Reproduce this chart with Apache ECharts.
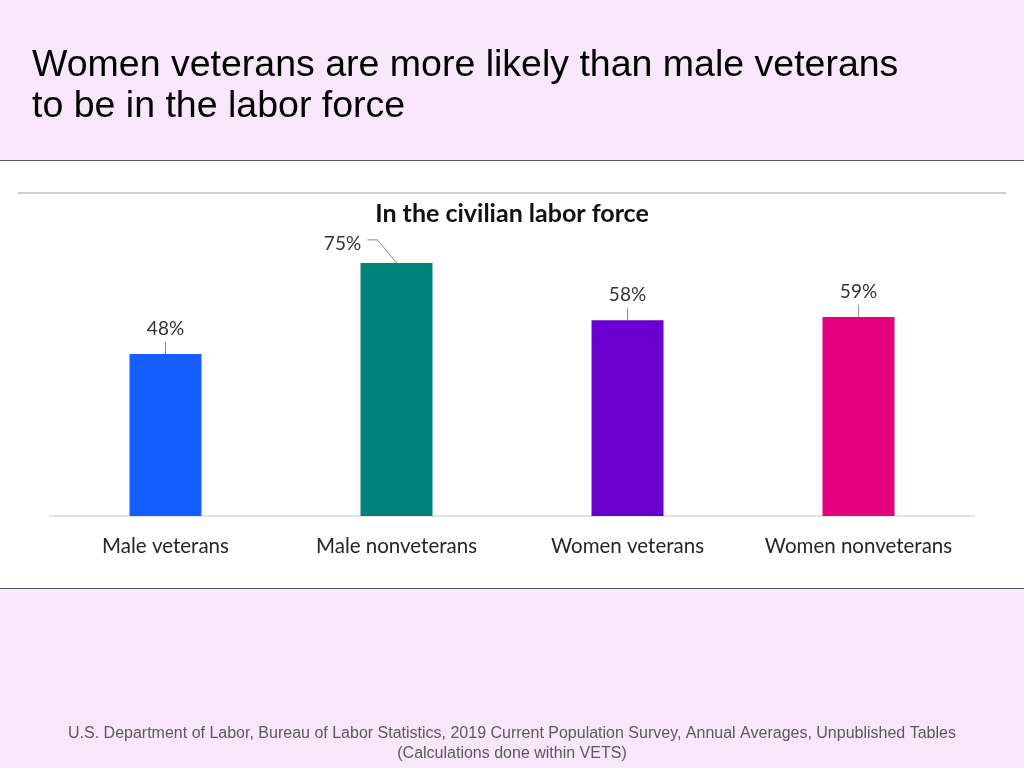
<!DOCTYPE html>
<html>
<head>
<meta charset="utf-8">
<script src="https://cdn.jsdelivr.net/npm/echarts@6/dist/echarts.min.js"></script>
<style>
html,body{margin:0;padding:0;background:#f8e6fb;}
#chart{width:1024px;height:768px;}
</style>
</head>
<body>
<div id="chart"></div>
<script>
const categories = ['Male veterans', 'Male nonveterans', 'Women veterans', 'Women nonveterans'];
const values = [48, 75, 58, 59];
const barColors = ['#175eff', '#00837c', '#6a00cf', '#e6007e'];
const mainTitle = 'Women veterans are more likely than male veterans\nto be in the labor force';
const chartTitle = 'In the civilian labor force';
const sourceNote = 'U.S. Department of Labor, Bureau of Labor Statistics, 2019 Current Population Survey, Annual Averages, Unpublished Tables\n(Calculations done within VETS)';

// styling of leader lines (pixel offsets from bar top)
const labelOffsets = {1: [-54, 6]};
const leaderBends = {1: [[-19, -23], [-29, -23]]};
const defaultLeader = [[0, -12]];

const chart = echarts.init(document.getElementById('chart'));
const chartFont = 'Lato';

chart.setOption({
  backgroundColor: '#f8e6fb',
  animation: false,
  graphic: [
    {type: 'rect', shape: {x: 0, y: 160, width: 1024, height: 428}, style: {fill: '#ffffff', stroke: null}, z: -10},
    {type: 'line', shape: {x1: 0, y1: 160.5, x2: 1024, y2: 160.5}, style: {stroke: '#5a5a5a', lineWidth: 1.2}, z: -9},
    {type: 'line', shape: {x1: 0, y1: 588.5, x2: 1024, y2: 588.5}, style: {stroke: '#5a5a5a', lineWidth: 1.2}, z: -9},
    {type: 'line', shape: {x1: 18, y1: 193, x2: 1006, y2: 193}, style: {stroke: '#d0d0d0', lineWidth: 2}, z: -9},
    {
      type: 'text', x: 512, y: 723.5,
      style: {
        text: sourceNote, textAlign: 'center', textVerticalAlign: 'top',
        fontFamily: 'Liberation Sans', fontSize: 16, lineHeight: 20, fill: '#5a5a5a'
      }
    }
  ],
  title: [
    {
      text: mainTitle, left: 27, top: 40,
      textStyle: {fontFamily: 'Liberation Sans', fontSize: 37.5, fontWeight: 'normal', color: '#000', lineHeight: 41}
    },
    {
      text: chartTitle, left: 'center', top: 196,
      textStyle: {fontFamily: chartFont, fontSize: 25, fontWeight: 'bold', color: '#111'}
    }
  ],
  grid: {left: 50, right: 50, top: 178.5, bottom: 252, containLabel: false},
  xAxis: {
    type: 'category',
    data: categories,
    axisLine: {show: true, lineStyle: {color: '#d9d9d9', width: 1.5}},
    axisTick: {show: false},
    axisLabel: {interval: 0, fontFamily: chartFont, fontSize: 20.5, color: '#262626', margin: 20}
  },
  yAxis: {type: 'value', min: 0, max: 100, show: false, splitLine: {show: false}},
  series: [
    {
      type: 'bar',
      barWidth: 72,
      data: values.map((v, i) => ({
        value: v,
        itemStyle: {color: barColors[i]},
        label: labelOffsets[i] ? {offset: labelOffsets[i]} : {}
      })),
      label: {
        show: true, position: 'top', distance: 16,
        formatter: '{c}%',
        fontFamily: chartFont, fontSize: 19, color: '#333333'
      }
    },
    {
      type: 'custom',
      silent: true,
      data: values.map((v, i) => [i, v]),
      renderItem: function (params, api) {
        const p = api.coord([api.value(0), api.value(1)]);
        const bends = leaderBends[params.dataIndex] || defaultLeader;
        const pts = [[p[0], p[1]]].concat(bends.map(b => [p[0] + b[0], p[1] + b[1]]));
        return {
          type: 'polyline',
          shape: {points: pts},
          style: {stroke: '#8c8c8c', lineWidth: 1, fill: null}
        };
      },
      z: 1
    }
  ]
});
</script>
</body>
</html>
